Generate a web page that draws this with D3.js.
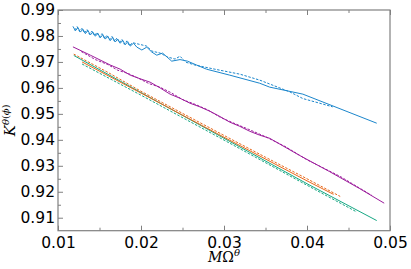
<!DOCTYPE html>
<html>
<head>
<meta charset="utf-8">
<script src="https://cdn.jsdelivr.net/npm/d3@7"></script>
<style>
  body { margin: 0; background: #fff; }
  svg { display: block; }
  .tick text { font-family: "DejaVu Sans", sans-serif; font-size: 15.5px; fill: #000; }
</style>
</head>
<body>
<div id="chart"></div>
<script>
// tick labels
var xTicks = [0.01, 0.02, 0.03, 0.04, 0.05];
var xMinor = [0.015, 0.025, 0.035, 0.045];
var yTicks = [0.91, 0.92, 0.93, 0.94, 0.95, 0.96, 0.97, 0.98, 0.99];
var yMinor = [0.915, 0.925, 0.935, 0.945, 0.955, 0.965, 0.975, 0.985];

// series, [x, y]
var blueSolid = [
  [0.0118,0.9837],[0.0121,0.9820],[0.0124,0.9832],[0.0127,0.9815],[0.0130,0.9826],
  [0.0133,0.9809],[0.0136,0.9821],[0.0139,0.9804],[0.0142,0.9815],[0.0145,0.9799],
  [0.0148,0.9810],[0.0151,0.9793],[0.0154,0.9805],[0.0157,0.9788],[0.0160,0.9799],
  [0.0163,0.9782],[0.0166,0.9794],[0.0169,0.9777],[0.0172,0.9788],[0.0175,0.9772],
  [0.0178,0.9783],[0.0181,0.9766],[0.0184,0.9778],[0.0187,0.9761],[0.0191,0.9772],
  [0.0195,0.9757],[0.0201,0.9746],[0.0207,0.9757],[0.0213,0.9738],[0.0219,0.9726],
  [0.0226,0.9734],[0.0237,0.9703],[0.0247,0.9709],[0.0256,0.9703],[0.0267,0.9688],
  [0.0279,0.9672],[0.0307,0.9649],[0.0343,0.9618],[0.0355,0.9603],[0.0395,0.9576],
  [0.0484,0.9464]
];
var blueDashed = [
  [0.0120,0.9822],[0.0123,0.9836],[0.0126,0.9817],[0.0129,0.9830],[0.0132,0.9811],
  [0.0135,0.9825],[0.0138,0.9806],[0.0141,0.9819],[0.0144,0.9801],[0.0147,0.9814],
  [0.0150,0.9795],[0.0153,0.9809],[0.0156,0.9790],[0.0159,0.9803],[0.0162,0.9784],
  [0.0165,0.9798],[0.0168,0.9779],[0.0171,0.9792],[0.0174,0.9774],[0.0177,0.9787],
  [0.0180,0.9768],[0.0183,0.9781],[0.0186,0.9763],[0.0190,0.9774],[0.0207,0.9761],
  [0.0213,0.9742],[0.0223,0.9734],[0.0232,0.9719],[0.0241,0.9711],[0.0247,0.9722],
  [0.0254,0.9699],[0.0265,0.9688],[0.0289,0.9672],[0.0319,0.9653],[0.0343,0.9630],
  [0.0379,0.9585],[0.0395,0.9559],[0.0431,0.9527]
];
var purpleSolid = [
  [0.0118,0.9758],[0.0139,0.9726],[0.0163,0.9688],[0.0175,0.9672],[0.0187,0.9649],
  [0.0200,0.9634],[0.0211,0.9622],[0.0223,0.9600],[0.0235,0.9576],[0.0247,0.9560],
  [0.0259,0.9541],[0.0271,0.9527],[0.0283,0.9510],[0.0295,0.9490],[0.0307,0.9468],
  [0.0319,0.9452],[0.0331,0.9433],[0.0343,0.9418],[0.0355,0.9406],[0.0391,0.9340],
  [0.0427,0.9278],[0.0463,0.9213],[0.0493,0.9156]
];
var purpleDashed = [
  [0.0128,0.9740],[0.0145,0.9709],[0.0160,0.9690],[0.0172,0.9668],[0.0185,0.9655],
  [0.0197,0.9637],[0.0210,0.9616],[0.0222,0.9604],[0.0236,0.9582],[0.0250,0.9555],
  [0.0265,0.9537],[0.0280,0.9516],[0.0296,0.9486],[0.0312,0.9464],[0.0330,0.9440],
  [0.0350,0.9412],[0.0375,0.9372],[0.0400,0.9323],[0.0440,0.9259],[0.0478,0.9186]
];
var orangeSolid = [[0.0129,0.9700],[0.0200,0.9580],[0.0300,0.9410],[0.0400,0.9242],[0.0432,0.9190]];
var orangeDashed = [[0.0119,0.9730],[0.0160,0.9660],[0.0200,0.9587],[0.0250,0.9502],[0.0300,0.9417],
  [0.0350,0.9333],[0.0400,0.9250],[0.0440,0.9182]];
var tealSolid = [[0.0119,0.9725],[0.0200,0.9582],[0.0300,0.9406],[0.0400,0.9231],[0.0484,0.9089]];
var tealDashed = [[0.0129,0.9692],[0.0200,0.9572],[0.0300,0.9399],[0.0400,0.9225],[0.0460,0.9122]];

var W = 411, H = 269;
var padL = 58, padR = 390, padT = 10, padB = 230.7;
var axisColor = "#808080";

var svg = d3.select("#chart").append("svg")
  .attr("width", W).attr("height", H);

var x = d3.scaleLinear().domain([0.01, 0.05]).range([padL, padR]);
var y = d3.scaleLinear().domain([0.905, 0.99]).range([padB, padT]);

// lines first, spines on top
var line = d3.line().x(function(d){ return x(d[0]); }).y(function(d){ return y(d[1]); });

var series = [
  {data: blueDashed, color: "#1b86cc", dash: "2.5,1.5"},
  {data: blueSolid, color: "#1b86cc", dash: null},
  {data: purpleDashed, color: "#9c1c9c", dash: "2.5,1.5"},
  {data: purpleSolid, color: "#9c1c9c", dash: null},
  {data: tealDashed, color: "#17a884", dash: "2.5,1.5"},
  {data: tealSolid, color: "#17a884", dash: null},
  {data: orangeSolid, color: "#e8681a", dash: null},
  {data: orangeDashed, color: "#e8681a", dash: "2.5,1.5"}
];

var plot = svg.append("g");
series.forEach(function(s){
  plot.append("path")
    .attr("d", line(s.data))
    .attr("fill", "none")
    .attr("stroke", s.color)
    .attr("stroke-width", 1)
    .attr("stroke-dasharray", s.dash);
});

function styleAxis(g) {
  g.select(".domain").remove();
  g.selectAll(".tick line").attr("stroke", axisColor);
}

// bottom axis, ticks pointing in
svg.append("g").attr("transform", "translate(0," + padB + ")")
  .call(d3.axisBottom(x).tickValues(xTicks).tickSize(-5).tickPadding(3)
    .tickFormat(d3.format(".2f")))
  .call(styleAxis)
  .selectAll("text").attr("dy", "0.95em");
svg.append("g").attr("transform", "translate(0," + padB + ")")
  .call(d3.axisBottom(x).tickValues(xMinor).tickSize(-3).tickFormat(""))
  .call(styleAxis);

// top axis ticks only
svg.append("g").attr("transform", "translate(0," + padT + ")")
  .call(d3.axisTop(x).tickValues(xTicks).tickSize(-5).tickFormat(""))
  .call(styleAxis);
svg.append("g").attr("transform", "translate(0," + padT + ")")
  .call(d3.axisTop(x).tickValues(xMinor).tickSize(-3).tickFormat(""))
  .call(styleAxis);

// left axis
svg.append("g").attr("transform", "translate(" + padL + ",0)")
  .call(d3.axisLeft(y).tickValues(yTicks).tickSize(-5).tickPadding(3)
    .tickFormat(d3.format(".2f")))
  .call(styleAxis);
svg.append("g").attr("transform", "translate(" + padL + ",0)")
  .call(d3.axisLeft(y).tickValues(yMinor).tickSize(-3).tickFormat(""))
  .call(styleAxis);

// frame
svg.append("rect")
  .attr("x", padL).attr("y", padT)
  .attr("width", padR - padL).attr("height", padB - padT)
  .attr("fill", "none").attr("stroke", axisColor).attr("stroke-width", 1.2);

// axis labels
var xl = svg.append("text")
  .attr("x", (padL + padR) / 2).attr("y", 261.5)
  .attr("text-anchor", "middle")
  .style("font-family", "DejaVu Serif, serif").style("font-size", "14px")
  .style("font-style", "italic");
xl.append("tspan").text("M");
xl.append("tspan").style("font-style", "normal").text("Ω");
xl.append("tspan").attr("dy", -6).style("font-size", "10px").text("θ");

var yl = svg.append("text")
  .attr("transform", "translate(15," + ((padT + padB) / 2) + ") rotate(-90)")
  .attr("text-anchor", "middle")
  .style("font-family", "DejaVu Serif, serif").style("font-size", "15px")
  .style("font-style", "italic");
yl.append("tspan").text("K");
yl.append("tspan").attr("dy", -6).style("font-size", "10px").text("θ");
yl.append("tspan").style("font-size", "10px").style("font-style", "normal").text("(");
yl.append("tspan").style("font-size", "10px").text("ϕ");
yl.append("tspan").style("font-size", "10px").style("font-style", "normal").text(")");
</script>
</body>
</html>
